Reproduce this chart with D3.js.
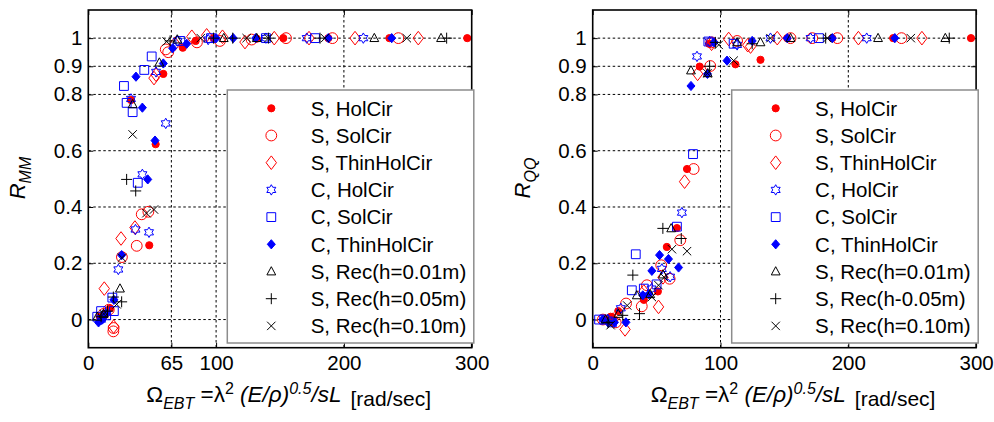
<!DOCTYPE html>
<meta charset="utf-8">
<script src="https://d3js.org/d3.v7.min.js"></script>
<style>
  body { margin: 0; background: #fff; }
  text { font-family: "Liberation Sans", Arial, Helvetica, sans-serif; fill: #000; }
</style>
<body>
<script>
// values: [Omega_EBT, R]
// --- left panel, R_MM ---
var mmSHolCir = [[9,0.01],[13,0.02],[17,0.04],[33.4,0.78],[47.7,0.264],[52.7,0.623],[58.7,0.873],[73.9,0.966],[84,0.99],[98,1.0],[131.8,0.998],[152.6,1.0],[187.8,1.0],[235.6,1.0],[296.5,1.0]];
var mmSSolCir = [[12,0.02],[16,0.035],[19.6,-0.042],[19.8,-0.03],[26.3,0.222],[37.9,0.262],[41.8,0.374],[47,0.383],[60.6,0.96],[62.5,0.95],[85,0.985],[103,0.99],[127.8,0.995],[154.7,1.0],[191,1.0],[242.6,1.0]];
var mmSThinHolCir = [[12.5,0.11],[19.8,-0.025],[25.6,0.288],[36.5,0.327],[51.4,0.858],[53,0.87],[67.8,0.98],[81,1.005],[92.6,1.01],[105,1.005],[122.6,0.986],[145.5,1.0],[172.7,1.0],[208.7,1.0],[258.2,1.0]];
var mmCHolCir = [[10,0.0],[23.5,0.178],[33.4,0.784],[36.9,0.32],[42.3,0.516],[47.5,0.31],[53,0.88],[60.6,0.697],[70,0.99],[93.8,0.995],[139,1.0],[170.9,1.0],[215.2,1.0]];
var mmCSolCir = [[7,0.01],[10,0.03],[14,0.015],[18.8,0.078],[20,0.03],[27.9,0.83],[30,0.77],[34.7,0.737],[38.7,0.486],[43.8,0.887],[49.6,0.935],[72,0.99],[96,1.0],[139,1.0],[177.4,1.0]];
var mmCThinHolCir = [[8,-0.01],[11,0.0],[14,0.02],[20,0.07],[26.1,0.229],[37.3,0.863],[42.3,0.753],[46.5,0.498],[52.2,0.636],[58.7,0.91],[66,0.964],[77,0.98],[100,1.0],[113.4,1.0],[131,1.0],[187.8,1.0],[237.4,1.0]];
var mmSRec01 = [[7,0.01],[12,0.02],[24.8,0.11],[34.7,0.765],[55.6,0.913],[69.6,0.995],[106,1.0],[131.8,1.0],[223.8,1.0],[276,1.0]];
var mmSRec05 = [[10,0.01],[15,0.03],[19.6,0.08],[26.1,0.063],[30,0.498],[37.1,0.457],[64,0.99],[98,1.0],[113,1.0],[140.9,1.0],[181.3,1.0],[280.4,1.0]];
var mmSRec10 = [[12,0.02],[22.2,0.054],[26.3,0.22],[34.7,0.658],[45.5,0.378],[51.4,0.391],[61.3,0.988],[88,1.0],[123.9,1.0],[140.9,1.0],[185.2,1.0],[249.2,1.0]];

// --- right panel, R_QQ ---
var qqSHolCir = [[10,0.0],[14,0.01],[20,0.03],[40,0.07],[51,0.1],[58,0.258],[65.9,0.325],[73.8,0.535],[83.7,0.899],[91,0.98],[111.7,0.907],[131.3,0.923],[152.2,1.0],[187.5,1.0],[235.1,1.0],[296,1.0]];
var qqSSolCir = [[8,0.0],[14,0.0],[18,-0.01],[26.1,0.057],[38.4,0.047],[42.4,0.122],[53.6,0.193],[60.2,0.145],[68.5,0.282],[79,0.535],[92,0.901],[93,0.985],[113,0.99],[154.8,1.0],[171.8,1.0],[191.4,1.0],[241.6,1.0]];
var qqSThinHolCir = [[16,0.0],[25.3,-0.035],[40,0.1],[51.5,0.045],[55,0.15],[71.9,0.49],[82.1,0.873],[93,0.98],[106.4,0.997],[121.3,0.975],[123.5,0.97],[144.4,1.0],[207.9,1.0],[257.6,1.0]];
var qqCHolCir = [[12,0.0],[22,0.04],[46,0.11],[54.1,0.18],[60.6,0.152],[69.8,0.38],[81.6,0.935],[91.5,0.988],[113,0.976],[139.1,1.0],[170.5,1.0],[214.4,1.0]];
var qqCSolCir = [[5,0.0],[9,0.0],[15,-0.01],[30.6,0.104],[33.7,0.232],[40,0.11],[50,0.125],[65.9,0.33],[78.5,0.588],[90.5,0.988],[110.3,0.98],[177,1.0]];
var qqCThinHolCir = [[8,0.0],[12,-0.01],[17,-0.01],[26,-0.01],[39.2,0.086],[44,0.09],[46.3,0.173],[52.3,0.229],[59.3,0.215],[67.2,0.185],[76.9,0.83],[89.8,0.873],[95,0.985],[105.1,0.92],[124.8,0.99],[152.2,1.0],[187.5,1.0],[236.4,1.0]];
var qqSRec01 = [[10,0.0],[20,0.02],[34.5,0.086],[45,0.09],[55,0.16],[61.4,0.324],[76.9,0.885],[90,0.875],[113,0.985],[131.3,0.985],[154.8,1.0],[223.3,1.0],[275.9,1.0]];
var qqSRec05 = [[12,-0.01],[23.5,0.015],[31.4,0.158],[36.6,0.021],[54.9,0.324],[69.3,0.288],[91.5,0.9],[96,0.985],[124.8,0.98],[182.3,1.0],[279,1.0]];
var qqSRec10 = [[14,-0.02],[27,0.05],[46.3,0.08],[51.5,0.122],[56,0.15],[62,0.25],[73.8,0.243],[89.8,0.875],[98.6,0.976],[110.3,0.92],[139.1,1.0],[183.6,1.0],[248.9,1.0]];

var namesMM = ["S, HolCir","S, SolCir","S, ThinHolCir","C, HolCir","C, SolCir","C, ThinHolCir","S, Rec(h=0.01m)","S, Rec(h=0.05m)","S, Rec(h=0.10m)"];
var namesQQ = ["S, HolCir","S, SolCir","S, ThinHolCir","C, HolCir","C, SolCir","C, ThinHolCir","S, Rec(h=0.01m)","S, Rec(h-0.05m)","S, Rec(h=0.10m)"];
var xTicksMM = [0, 65, 100, 200, 300];
var xTicksQQ = [0, 100, 200, 300];
var yTicks = [0, 0.2, 0.4, 0.6, 0.8, 0.9, 1];

// marker look for each series, same order as the names
var markers = [
  {shape: "dot", color: "#ff0000", fill: true},
  {shape: "circle", color: "#ff0000", fill: false},
  {shape: "diamond", color: "#ff0000", fill: false},
  {shape: "hexagram", color: "#0000ff", fill: false},
  {shape: "square", color: "#0000ff", fill: false},
  {shape: "smalldiamond", color: "#0000ff", fill: true},
  {shape: "triangle", color: "#000000", fill: false},
  {shape: "plus", color: "#000000", fill: false},
  {shape: "cross", color: "#000000", fill: false}
];

function markerPath(shape) {
  if (shape == "dot") return circ(3.6);
  if (shape == "circle") return circ(5.4);
  if (shape == "diamond") return "M0,-6.8L5.2,0L0,6.8L-5.2,0Z";
  if (shape == "smalldiamond") return "M0,-4.6L4,0L0,4.6L-4,0Z";
  if (shape == "square") return "M-4.4,-4.4H4.4V4.4H-4.4Z";
  if (shape == "triangle") return "M0,-4.8L4.4,3.4L-4.4,3.4Z";
  if (shape == "plus") return "M-5.5,0H5.5M0,-5.5V5.5";
  if (shape == "cross") return "M-4.2,-4.2L4.2,4.2M-4.2,4.2L4.2,-4.2";
  if (shape == "hexagram") {
    var pts = [];
    for (var i = 0; i < 12; i++) {
      var r = (i % 2 == 0) ? 5.2 : 5.2 / Math.sqrt(3);
      var a = -Math.PI / 2 + i * Math.PI / 6;
      pts.push([r * Math.cos(a), r * Math.sin(a)]);
    }
    return "M" + pts.map(function(p) { return p[0].toFixed(2) + "," + p[1].toFixed(2); }).join("L") + "Z";
  }
}
function circ(r) {
  return "M" + r + ",0A" + r + "," + r + " 0 1 1 " + (-r) + ",0A" + r + "," + r + " 0 1 1 " + r + ",0Z";
}
function styleMarker(sel, m) {
  sel.attr("d", markerPath(m.shape))
     .attr("fill", m.fill ? m.color : "none")
     .attr("stroke", m.color)
     .attr("stroke-width", 1);
}

var width = 994, height = 422;
var svg = d3.select("body").append("svg")
    .attr("width", width)
    .attr("height", height);

var panels = [
  {left: 88.3, series: [mmSHolCir, mmSSolCir, mmSThinHolCir, mmCHolCir, mmCSolCir, mmCThinHolCir, mmSRec01, mmSRec05, mmSRec10],
   names: namesMM, xTicks: xTicksMM, sub: "MM"},
  {left: 592.7, series: [qqSHolCir, qqSSolCir, qqSThinHolCir, qqCHolCir, qqCSolCir, qqCThinHolCir, qqSRec01, qqSRec05, qqSRec10],
   names: namesQQ, xTicks: xTicksQQ, sub: "QQ"}
];

var plotW = 383.4, plotTop = 10, plotBottom = 347.7;

panels.forEach(function(p) {
  var x = d3.scaleLinear().domain([0, 300]).range([p.left, p.left + plotW]);
  var y = d3.scaleLinear().domain([-0.1, 1.1]).range([plotBottom, plotTop]);
  var g = svg.append("g");

  // dotted grid
  g.selectAll(".gx").data(p.xTicks.filter(function(d) { return d > 0 && d < 300; }))
    .enter().append("line")
    .attr("x1", function(d) { return x(d); }).attr("x2", function(d) { return x(d); })
    .attr("y1", plotTop).attr("y2", plotBottom)
    .attr("stroke", "#000").attr("stroke-width", 1).attr("stroke-dasharray", "2.5,2.5");
  g.selectAll(".gy").data(yTicks)
    .enter().append("line")
    .attr("x1", x(0)).attr("x2", x(300))
    .attr("y1", function(d) { return y(d); }).attr("y2", function(d) { return y(d); })
    .attr("stroke", "#000").attr("stroke-width", 1).attr("stroke-dasharray", "2.5,2.5");

  // axes, ticks pointing inward like matlab
  g.append("g").attr("transform", "translate(0," + plotBottom + ")")
    .call(d3.axisBottom(x).tickValues(p.xTicks).tickFormat(d3.format("d")).tickSizeInner(-5).tickSizeOuter(0).tickPadding(8));
  g.append("g").attr("transform", "translate(" + p.left + ",0)")
    .call(d3.axisLeft(y).tickValues(yTicks).tickFormat(function(d) { return d == 0 || d == 1 ? d : d3.format(".1f")(d); }).tickSizeInner(-5).tickSizeOuter(0).tickPadding(6));
  g.append("g").attr("transform", "translate(0," + plotTop + ")")
    .call(d3.axisTop(x).tickValues(p.xTicks).tickFormat("").tickSizeInner(-5).tickSizeOuter(0));
  g.append("g").attr("transform", "translate(" + (p.left + plotW) + ",0)")
    .call(d3.axisRight(y).tickValues(yTicks).tickFormat("").tickSizeInner(-5).tickSizeOuter(0));
  g.selectAll(".domain").remove();
  g.selectAll(".tick line").attr("stroke", "#000");
  g.selectAll(".tick text").style("font-size", "20.5px");

  // markers
  p.series.forEach(function(s, i) {
    g.append("g").selectAll("path").data(s).enter().append("path")
      .attr("transform", function(d) { return "translate(" + x(d[0]) + "," + y(d[1]) + ")"; })
      .call(styleMarker, markers[i]);
  });

  // frame
  g.append("rect").attr("x", p.left).attr("y", plotTop).attr("width", plotW).attr("height", plotBottom - plotTop)
    .attr("fill", "none").attr("stroke", "#000").attr("stroke-width", 1.6);

  // legend
  var lx = p.left + 139, ly = 90;
  var leg = g.append("g");
  leg.append("rect").attr("x", lx).attr("y", ly).attr("width", 246.5).attr("height", 253)
    .attr("fill", "#fff").attr("stroke", "#8c8c8c").attr("stroke-width", 1.5);
  p.names.forEach(function(n, i) {
    var cy = 108.3 + i * 27.2;
    leg.append("path").attr("transform", "translate(" + (lx + 44) + "," + cy + ")").call(styleMarker, markers[i]);
    leg.append("text").attr("x", lx + 83.4).attr("y", cy + 7.2).style("font-size", "20.5px").text(n);
  });

  // y label
  var yl = g.append("text").attr("transform", "translate(" + (p.left - 63) + ",178) rotate(-90)")
    .attr("text-anchor", "middle");
  yl.append("tspan").style("font-size", "22px").style("font-style", "italic").text("R");
  yl.append("tspan").style("font-size", "16px").style("font-style", "italic").attr("dy", 6).text(p.sub);

  // x label
  var xl = g.append("text").attr("x", p.left + 58).attr("y", 401.7).style("font-size", "22.5px");
  xl.append("tspan").text("\u03a9");
  xl.append("tspan").style("font-size", "16px").style("font-style", "italic").attr("dy", 7).text("EBT");
  xl.append("tspan").attr("dy", -7).text(" =\u03bb");
  xl.append("tspan").style("font-size", "16px").attr("dy", -8).text("2");
  xl.append("tspan").style("font-style", "italic").attr("dy", 8).text(" (E/\u03c1)");
  xl.append("tspan").style("font-size", "16px").style("font-style", "italic").attr("dy", -8).text("0.5");
  xl.append("tspan").style("font-style", "italic").attr("dy", 8).text("/sL");
  xl.append("tspan").style("font-size", "21px").attr("dx", 9).attr("dy", 4).text("[rad/sec]");
});
</script>
</body>
